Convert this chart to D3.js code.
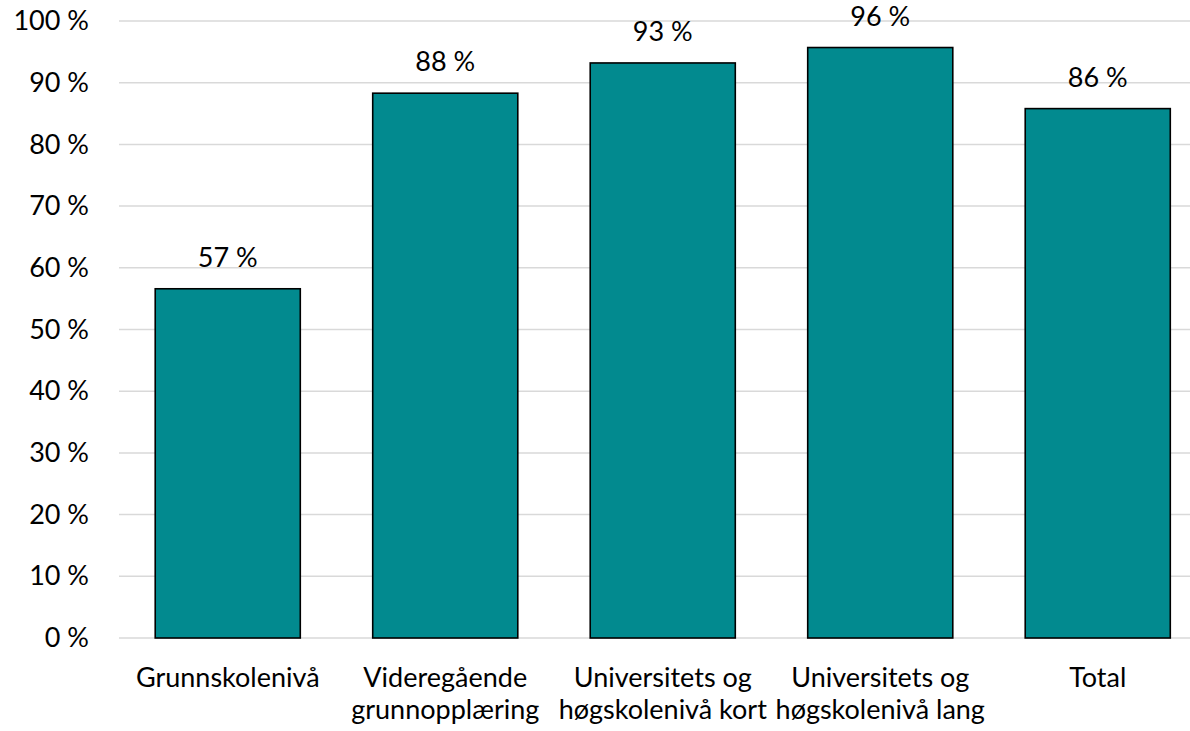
<!DOCTYPE html>
<html>
<head>
<meta charset="utf-8">
<script src="https://cdn.jsdelivr.net/npm/d3@7"></script>
<style>
  html, body { margin: 0; padding: 0; background: #fff; }
  svg { display: block; font-family: Lato, "Open Sans", sans-serif; }
</style>
</head>
<body>
<svg id="chart" width="1190" height="731"></svg>
<script>
// --- data --------------------------------------------------------------------
const categories = [
  'Grunnskolenivå',
  'Videregående\ngrunnopplæring',
  'Universitets og\nhøgskolenivå kort',
  'Universitets og\nhøgskolenivå lang',
  'Total'
];
const values = [56.6, 88.3, 93.2, 95.7, 85.8];
const valueLabels = ['57 %', '88 %', '93 %', '96 %', '86 %'];
const yTicks = [0, 10, 20, 30, 40, 50, 60, 70, 80, 90, 100];

// --- layout ------------------------------------------------------------------
const W = 1190, H = 731;
const PLOT_L = 119, PLOT_R = 1206.5;
const Y0 = 638, Y100 = 21;
const BAR_FILL = '#028A8F';
const GRID = '#D9D9D9';
const FONT = 'Lato, sans-serif';
const FONT_SIZE = 27;

const svg = d3.select('#chart');

const x = d3.scaleBand()
  .domain(categories)
  .range([PLOT_L, PLOT_R])
  .paddingInner(0.333)
  .paddingOuter(0.1665);

const y = d3.scaleLinear().domain([0, 100]).range([Y0, Y100]);

// gridlines
svg.append('g').selectAll('line')
  .data(yTicks)
  .join('line')
  .attr('x1', PLOT_L).attr('x2', W)
  .attr('y1', d => y(d)).attr('y2', d => y(d))
  .attr('stroke', GRID).attr('stroke-width', 1.5);

// y axis labels
const yAxis = d3.axisLeft(y).tickValues(yTicks).tickSize(0).tickPadding(30)
  .tickFormat(d => d + ' %');
svg.append('g')
  .attr('transform', `translate(${PLOT_L},0)`)
  .call(yAxis)
  .attr('font-family', FONT)
  .attr('font-size', FONT_SIZE)
  .call(g => g.select('.domain').remove())
  .call(g => g.selectAll('text').attr('fill', '#000'));

// bars
svg.append('g').selectAll('rect')
  .data(values)
  .join('rect')
  .attr('x', (d, i) => x(categories[i]))
  .attr('width', x.bandwidth())
  .attr('y', d => y(d))
  .attr('height', d => y(0) - y(d))
  .attr('fill', BAR_FILL)
  .attr('stroke', '#000')
  .attr('stroke-width', 1.6);

// value labels
svg.append('g').selectAll('text')
  .data(values)
  .join('text')
  .attr('x', (d, i) => x(categories[i]) + x.bandwidth() / 2)
  .attr('y', d => y(d) - 22)
  .attr('text-anchor', 'middle')
  .attr('font-family', FONT)
  .attr('font-size', FONT_SIZE)
  .attr('fill', '#000')
  .text((d, i) => valueLabels[i]);

// category labels (x axis)
const xAxis = d3.axisBottom(x).tickSize(0).tickPadding(0).tickFormat('');
const xg = svg.append('g')
  .attr('transform', `translate(0,${Y0})`)
  .call(xAxis)
  .attr('font-family', FONT)
  .attr('font-size', FONT_SIZE)
  .call(g => g.select('.domain').remove());

xg.selectAll('.tick').append('text')
  .attr('text-anchor', 'middle')
  .attr('fill', '#000')
  .selectAll('tspan')
  .data(d => d.split('\n'))
  .join('tspan')
  .attr('x', 0)
  .attr('y', (d, i) => 49 + i * 32)
  .text(d => d);
</script>
</body>
</html>
